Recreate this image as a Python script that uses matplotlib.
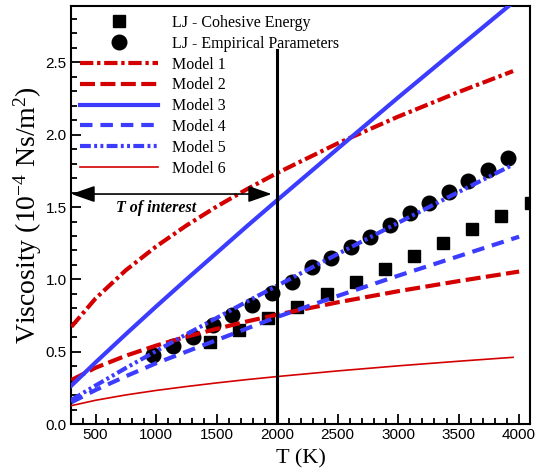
import matplotlib
matplotlib.use("Agg")
import matplotlib.pyplot as plt

# ---------------- data ----------------
T_curve = [300, 500, 750, 1000, 1250, 1500, 1750, 2000, 2500, 3000, 3500, 3950]
T_curve_long = [300, 500, 750, 1000, 1250, 1500, 1750, 2000, 2500, 3000, 3500, 4000]

model1 = [0.672, 0.868, 1.063, 1.227, 1.372, 1.503, 1.623, 1.735, 1.940, 2.125, 2.295, 2.440]
model2 = [0.304, 0.389, 0.472, 0.542, 0.603, 0.658, 0.709, 0.756, 0.841, 0.918, 0.988, 1.054]
model3 = [0.265, 0.426, 0.621, 0.812, 0.999, 1.183, 1.367, 1.547, 1.903, 2.257, 2.604, 2.915]
model4 = [0.150, 0.235, 0.330, 0.420, 0.500, 0.580, 0.660, 0.740, 0.885, 1.025, 1.160, 1.295]
model5 = [0.166, 0.266, 0.387, 0.504, 0.620, 0.733, 0.846, 0.956, 1.175, 1.391, 1.604, 1.793]
model6 = [0.127, 0.164, 0.201, 0.232, 0.259, 0.284, 0.307, 0.328, 0.367, 0.402, 0.434, 0.461]

T_emp = [973, 1139, 1304, 1469, 1626, 1791, 1957, 2122, 2287, 2444,
         2609, 2766, 2932, 3097, 3254, 3419, 3576, 3741, 3906]
lj_emp = [0.48, 0.539, 0.601, 0.684, 0.753, 0.822, 0.905, 0.985, 1.085, 1.147,
          1.223, 1.292, 1.375, 1.458, 1.527, 1.603, 1.679, 1.755, 1.838]

T_coh = [1446, 1685, 1925, 2164, 2412, 2651, 2890, 3130, 3370, 3609, 3849, 4097]
lj_coh = [0.567, 0.650, 0.733, 0.809, 0.898, 0.981, 1.071, 1.161, 1.250, 1.348, 1.437, 1.527]

T_interest = 2000
vline_top = 2.585
arrow_level = 1.59
labels = ["LJ - Cohesive Energy", "LJ - Empirical Parameters",
          "Model 1", "Model 2", "Model 3", "Model 4", "Model 5", "Model 6"]

# ---------------- style ----------------
RED = "#d40000"
BLUE = "#3c3cff"
SERIF = ["Liberation Serif", "DejaVu Serif"]
plt.rcParams["font.family"] = SERIF
plt.rcParams["mathtext.fontset"] = "custom"
plt.rcParams["mathtext.rm"] = "Liberation Serif"
plt.rcParams["mathtext.it"] = "Liberation Serif:italic"

fig = plt.figure(figsize=(5.36, 4.70), dpi=100)
W, H = 536, 470
ax = fig.add_axes([71 / W, 1 - 424 / H, (530 - 71) / W, (424 - 6) / H])

lw = 3.0
h1, = ax.plot(T_curve, model1, color=RED, lw=lw, dashes=(3.2, 0.9, 0.8, 0.9), zorder=3)
h2, = ax.plot(T_curve_long, model2, color=RED, lw=lw, dashes=(3.6, 1.3), zorder=3)
h3, = ax.plot(T_curve, model3, color=BLUE, lw=lw, zorder=3)
h4, = ax.plot(T_curve_long, model4, color=BLUE, lw=lw, dashes=(3.0, 1.9), zorder=3)
h5, = ax.plot(T_curve, model5, color=BLUE, lw=lw, dashes=(2.6, 0.8, 0.7, 0.8, 0.7, 0.8), zorder=4)
h6, = ax.plot(T_curve, model6, color=RED, lw=1.2, zorder=3)

hs, = ax.plot(T_coh, lj_coh, ls="none", marker="s", ms=9, color="black", zorder=2)
hc, = ax.plot(T_emp, lj_emp, ls="none", marker="o", ms=10.5, color="black", zorder=2)

ax.plot([T_interest, T_interest], [0, vline_top], color="black", lw=2.2, zorder=5)
ax.annotate("", xy=(300, arrow_level), xytext=(T_interest - 45, arrow_level),
            arrowprops=dict(arrowstyle="<|-|>,head_length=1.0,head_width=0.35",
                            mutation_scale=14.4, color="black", lw=1.2,
                            shrinkA=0, shrinkB=0), zorder=5)
ax.text(1000, 1.495, "T of interest", ha="center", va="center",
        fontsize=11.5, fontweight="bold", fontstyle="italic")

ax.set_xlim(297, 4090)
ax.set_ylim(0, 2.89)
ax.set_xticks([500, 1000, 1500, 2000, 2500, 3000, 3500, 4000])
ax.set_xticks(range(400, 4100, 100), minor=True)
ax.set_yticks([0.0, 0.5, 1.0, 1.5, 2.0, 2.5])
ax.set_yticks([i / 10 for i in range(0, 29)], minor=True)
ax.set_yticklabels(["0.0", "0.5", "1.0", "1.5", "2.0", "2.5"])
ax.tick_params(which="both", direction="in", top=False, right=False, width=1.3)
ax.tick_params(which="major", length=7, pad=3)
ax.tick_params(which="minor", length=4)
for lab in ax.get_xticklabels() + ax.get_yticklabels():
    lab.set_family(["Liberation Sans Narrow", "Liberation Sans", "DejaVu Sans"])
    lab.set_fontsize(11)
for sp in ax.spines.values():
    sp.set_linewidth(1.5)

ax.set_xlabel("T (K)", fontsize=16, labelpad=5)
ax.set_ylabel(r"Viscosity (10$^{-4}$ Ns/m$^2$)", fontsize=20, labelpad=1)

leg = ax.legend([hs, hc, h1, h2, h3, h4, h5, h6], labels,
                loc="upper left", bbox_to_anchor=(80 / W, 1 - 15 / H),
                bbox_transform=fig.transFigure, frameon=False,
                fontsize=11.5, numpoints=1, handlelength=4.9, handletextpad=0.85,
                borderpad=0, borderaxespad=0, labelspacing=0.3)

fig.savefig("out.png", dpi=100)
